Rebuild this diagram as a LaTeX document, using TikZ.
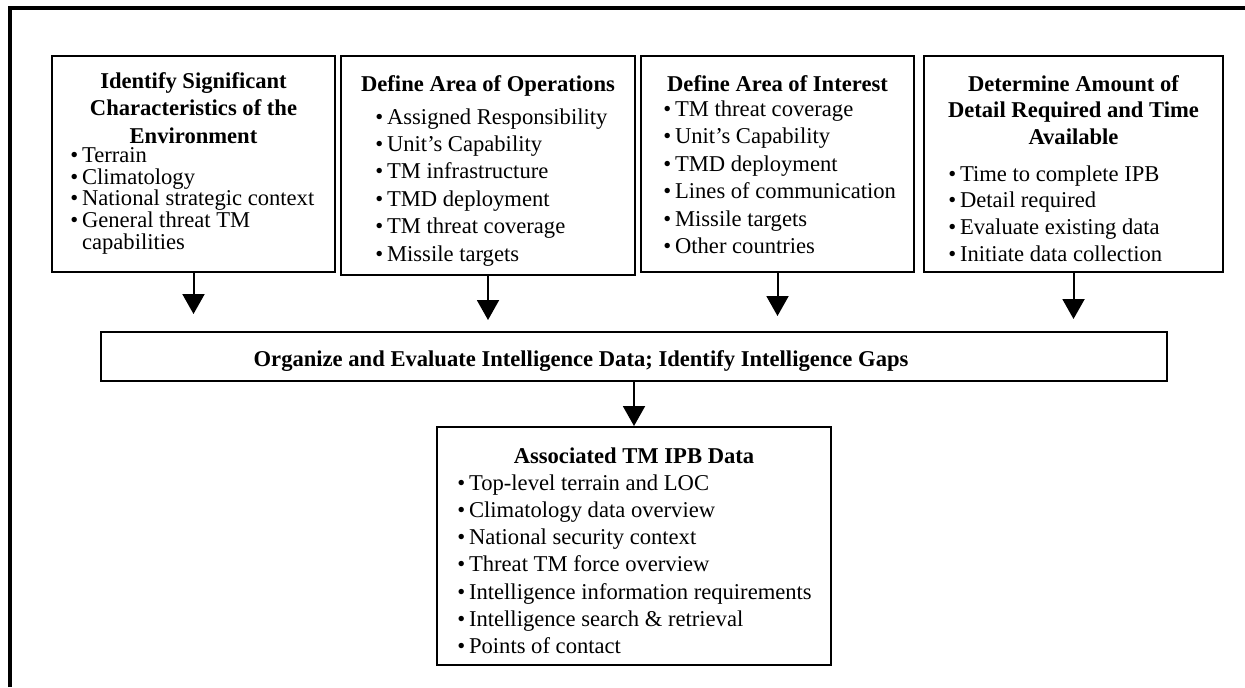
\documentclass[tikz,border=0pt]{standalone}
\usepackage{fontspec}
\setmainfont{Liberation Serif}
\usetikzlibrary{arrows.meta}

\begin{document}
\begin{tikzpicture}[x=0.5pt,y=-0.5pt,
        box/.style={draw,line width=1pt,inner sep=0pt},
        head/.style={anchor=north,inner sep=0pt,align=center,
            font=\fontsize{11.3}{13.75}\selectfont\bfseries},
        items/.style={anchor=north west,inner sep=0pt,align=left,
            font=\fontsize{11.3}{13.7}\selectfont},
        arr/.style={-{Triangle[width=11pt,length=10pt]},line width=1pt}]

\useasboundingbox (0,0) rectangle (1245,687);
\draw[line width=2pt] (10,687) -- (10,8) -- (1245,8);

\node[box,minimum width=141.5pt,minimum height=108pt] (chars) at (193.5,164) {};
\node[box,minimum width=147pt,minimum height=109.5pt] (ops) at (488,165.5) {};
\node[box,minimum width=136.5pt,minimum height=108pt] (interest) at (777.5,164) {};
\node[box,minimum width=149.5pt,minimum height=108pt] (detail) at (1073.5,164) {};
\node[box,minimum width=533pt,minimum height=24.5pt] (organize) at (634,356.5) {};
\node[box,minimum width=197pt,minimum height=119pt] (assoc) at (634,546) {};

\node[head] (charshead) at (193.5,72) {Identify Significant\\Characteristics of the\\Environment};
\node[items,font=\fontsize{11.3}{10.85}\selectfont] (charslist) at (70,147)
    {•\,Terrain\\•\,Climatology\\•\,National strategic context\\
     •\,General threat TM\\\phantom{•\,}capabilities};

\node[head] (opshead) at (488,75) {Define Area of Operations};
\node[items] (opslist) at (375,108)
    {•\,Assigned Responsibility\\•\,Unit’s Capability\\•\,TM infrastructure\\
     •\,TMD deployment\\•\,TM threat coverage\\•\,Missile targets};

\node[head] (interesthead) at (777.5,75) {Define Area of Interest};
\node[items,font=\fontsize{11.3}{13.75}\selectfont] (interestlist) at (663,100)
    {•\,TM threat coverage\\•\,Unit’s Capability\\•\,TMD deployment\\
     •\,Lines of communication\\•\,Missile targets\\•\,Other countries};

\node[head,font=\fontsize{11.3}{13.25}\selectfont\bfseries] (detailhead) at (1073.5,75)
    {Determine Amount of\\Detail Required and Time\\Available};
\node[items,font=\fontsize{11.3}{13.35}\selectfont] (detaillist) at (948,165)
    {•\,Time to complete IPB\\•\,Detail required\\•\,Evaluate existing data\\
     •\,Initiate data collection};

\node[head] (organizetext) at (581,350)
    {Organize and Evaluate Intelligence Data; Identify Intelligence Gaps};

\node[head] (assochead) at (634,447) {Associated TM IPB Data};
\node[items,font=\fontsize{11.3}{13.65}\selectfont] (assoclist) at (457,474)
    {•\,Top-level terrain and LOC\\•\,Climatology data overview\\
     •\,National security context\\•\,Threat TM force overview\\
     •\,Intelligence information requirements\\
     •\,Intelligence search \& retrieval\\•\,Points of contact};

\coordinate (charstip) at (193.5,314);
\coordinate (opstip) at (488,320);
\coordinate (interesttip) at (777.5,316);
\coordinate (detailtip) at (1073.5,319);

\draw[arr] (chars.south) -- (charstip);
\draw[arr] (ops.south) -- (opstip);
\draw[arr] (interest.south) -- (interesttip);
\draw[arr] (detail.south) -- (detailtip);
\draw[arr] (organize.south) -- (assoc.north);
\end{tikzpicture}
\end{document}
